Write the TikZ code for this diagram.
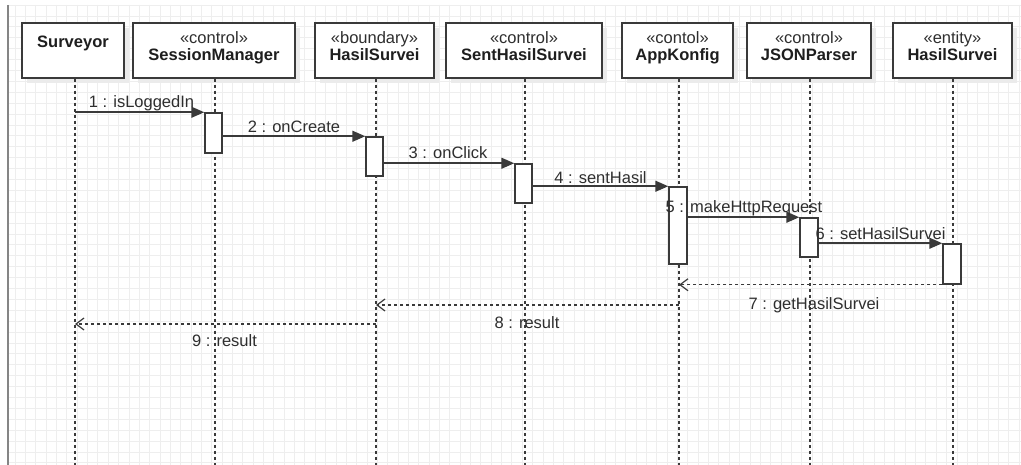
\documentclass[tikz,border=0pt]{standalone}
\usepackage{fontspec}
\setmainfont{Liberation Sans}
\usetikzlibrary{arrows.meta,shadows}
\definecolor{ln}{HTML}{3A3A3A}
\definecolor{txt}{HTML}{2E2E2E}
\definecolor{ttlc}{HTML}{1E1E1E}
\definecolor{gridc}{HTML}{EEEEEE}
\definecolor{shd}{HTML}{EBEBEB}
\definecolor{bordc}{HTML}{858585}
\begin{document}
\begin{tikzpicture}[x=1pt,y=-1pt,
  font=\fontsize{16.5}{17}\selectfont,
  gridline/.style={draw=gridc, line width=0.7pt},
  objbox/.style={draw=ln, line width=1.5pt, fill=white, minimum height=55pt, inner sep=0pt,
     drop shadow={shadow xshift=5pt, shadow yshift=-5pt, fill=shd, opacity=1}},
  act/.style={draw=ln, line width=1.5pt, fill=white, minimum width=17pt, inner sep=0pt},
  lifeline/.style={draw=ln, line width=1.3pt, dash pattern=on 3pt off 3pt},
  msg/.style={draw=ln, line width=1.5pt, -{Triangle[length=13pt,width=11pt]}},
  ret/.style={draw=ln, line width=1.3pt, dash pattern=on 3pt off 3pt,
     -{Straight Barb[length=8pt,width=12pt,line width=1.2pt]}},
  lbl/.style={anchor=base, inner sep=0pt, text=txt},
  ttl/.style={anchor=base, inner sep=0pt, text=ttlc, font=\fontsize{16.5}{17}\selectfont\bfseries},
  ster/.style={anchor=base, inner sep=0pt, text=txt}
]
\useasboundingbox (0,0) rectangle (1021,465);
\fill[white] (0,0) rectangle (1021,465);
% grid
\foreach \i in {0,...,97} \draw[gridline] ({15+10.35*\i},5) -- ({15+10.35*\i},465);
\foreach \j in {0,...,42} \draw[gridline] (8,{5+10.9*\j}) -- (1021,{5+10.9*\j});
\draw[draw=bordc, line width=2pt] (8,5) -- (8,465);

% lifeline ends
\coordinate (svL) at (75,465);
\coordinate (smL) at (215,465);
\coordinate (hbL) at (376,465);
\coordinate (shL) at (525,465);
\coordinate (akL) at (679,465);
\coordinate (jsL) at (810,465);
\coordinate (enL) at (953,465);

% object boxes
\node[objbox, minimum width=102pt] (sv) at (73,50.5) {};
\node[objbox, minimum width=162pt] (sm) at (214,50.5) {};
\node[objbox, minimum width=119pt] (hb) at (374.5,50.5) {};
\node[objbox, minimum width=156pt] (sh) at (524,50.5) {};
\node[objbox, minimum width=111pt] (ak) at (677.5,50.5) {};
\node[objbox, minimum width=124pt] (js) at (809,50.5) {};
\node[objbox, minimum width=119pt] (en) at (952.5,50.5) {};

% lifelines
\draw[lifeline] (sv.south -| svL) -- (svL);
\draw[lifeline] (sm.south -| smL) -- (smL);
\draw[lifeline] (hb.south -| hbL) -- (hbL);
\draw[lifeline] (sh.south -| shL) -- (shL);
\draw[lifeline] (ak.south -| akL) -- (akL);
\draw[lifeline] (js.south -| jsL) -- (jsL);
\draw[lifeline] (en.south -| enL) -- (enL);

% box texts
\node[ttl] (svT) at (73,48) {Surveyor};
\node[ster] (smS) at (214,44) {«control»};
\node[ttl] (smT) at (214,61) {SessionManager};
\node[ster] (hbS) at (374.5,44) {«boundary»};
\node[ttl] (hbT) at (374.5,61) {HasilSurvei};
\node[ster] (shS) at (524,44) {«control»};
\node[ttl] (shT) at (524,61) {SentHasilSurvei};
\node[ster] (akS) at (677.5,44) {«contol»};
\node[ttl] (akT) at (677.5,61) {AppKonfig};
\node[ster] (jsS) at (809,44) {«control»};
\node[ttl] (jsT) at (809,61) {JSONParser};
\node[ster] (enS) at (952.5,44) {«entity»};
\node[ttl] (enT) at (952.5,61) {HasilSurvei};

% activations
\node[act, minimum height=40pt] (a1) at (213.5,133) {};
\node[act, minimum height=39pt] (a2) at (374.5,156.5) {};
\node[act, minimum height=39pt] (a3) at (523.5,183.5) {};
\node[act, minimum width=18pt, minimum height=77pt] (a4) at (678,225.5) {};
\node[act, minimum width=18pt, minimum height=39pt] (a5) at (809,237.5) {};
\node[act, minimum width=18pt, minimum height=40pt] (a6) at (952,264) {};

% messages
\draw[msg] (svL |- a1.north west) -- (a1.north west);
\draw[msg] (a1.east |- a2.north west) -- (a2.north west);
\draw[msg] (a2.east |- a3.north west) -- (a3.north west);
\draw[msg] (a3.east |- a4.north west) -- (a4.north west);
\draw[msg] (a4.east |- a5.north west) -- (a5.north west);
\draw[msg] (a5.east |- a6.north west) -- (a6.north west);
\coordinate (y8) at (0,305);
\coordinate (y9) at (0,324);
\draw[ret] (a6.south west) -- (akL |- a6.south west);
\draw[ret] (akL |- y8) -- (hbL |- y8);
\draw[ret] (hbL |- y9) -- (svL |- y9);

% labels
\node[lbl] (l1) at (141.5,108) {1 : isLoggedIn};
\node[lbl] (l2) at (294,133) {2 : onCreate};
\node[lbl] (l3) at (448,159) {3 : onClick};
\node[lbl] (l4) at (600.5,184) {4 : sentHasil};
\node[lbl] (l5) at (744,213) {5 : makeHttpRequest};
\node[lbl] (l6) at (880.5,240) {6 : setHasilSurvei};
\node[lbl] (l7) at (814,309) {7 : getHasilSurvei};
\node[lbl] (l8) at (527,329) {8 : result};
\node[lbl] (l9) at (224.5,347) {9 : result};
\end{tikzpicture}
\end{document}
